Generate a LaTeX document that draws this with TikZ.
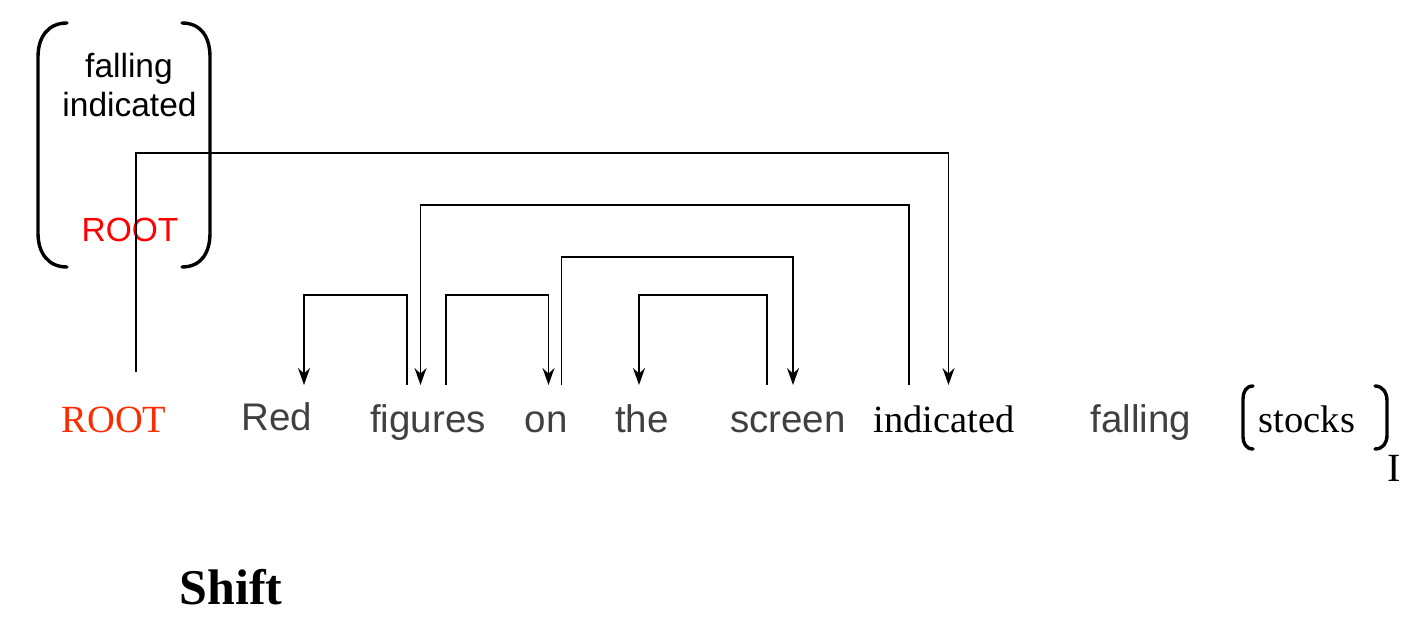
\documentclass[tikz,border=0pt]{standalone}
\usepackage{fontspec}
\setmainfont{Liberation Serif}
\newfontfamily\arialfam{Liberation Sans}
\usetikzlibrary{arrows.meta}
\definecolor{rootorange}{RGB}{250,45,0}
\definecolor{wordgray}{RGB}{64,64,64}
\definecolor{purered}{RGB}{255,0,0}
\begin{document}
\begin{tikzpicture}[x=0.5pt,y=-0.5pt,
  sansword/.style={font=\arialfam\fontsize{19.25pt}{23pt}\selectfont, text=wordgray, anchor=base, inner sep=0pt},
  serifword/.style={font=\fontsize{19.25pt}{23pt}\selectfont, text=black, anchor=base, inner sep=0pt},
  stacktext/.style={font=\arialfam\fontsize{16.75pt}{20pt}\selectfont, text=black, anchor=base, inner sep=0pt},
  brk/.style={line width=1.7pt, line cap=round},
  arcline/.style={line width=0.8pt},
  dep/.style={arcline, -{Stealth[length=8.5pt,width=6pt,inset=2.8pt]}}]
\useasboundingbox (0,0) rectangle (1427,619);

% stack
\draw[brk] (67,23) .. controls (48,23) and (38,37) .. (38,57) -- (38,233) .. controls (38,253) and (48,267) .. (67,267);
\draw[brk] (182,23) .. controls (201,23) and (210,37) .. (210,57) -- (210,233) .. controls (210,253) and (201,267) .. (182,267);
\node[stacktext] (sfalling) at (129,78) {falling};
\node[stacktext] (sindicated) at (129.5,117) {indicated};
\node[stacktext, text=purered] (sroot) at (130,241.5) {ROOT};

% words
\node[serifword, text=rootorange] (wROOT) at (114,432) {ROOT};
\node[sansword] (wRed) at (277,430) {Red};
\node[sansword] (wfigures) at (428,432) {figures};
\node[sansword] (won) at (546,432) {on};
\node[sansword] (wthe) at (642,432) {the};
\node[sansword] (wscreen) at (788,432) {screen};
\node[serifword] (windicated) at (944,432) {indicated};
\node[sansword] (wfalling) at (1141,432) {falling};
\node[serifword] (wstocks) at (1307,432) {stocks};
\node[serifword, font=\fontsize{20pt}{24pt}\selectfont] (bufsub) at (1394,481) {I};
\node[font=\bfseries\fontsize{25pt}{30pt}\selectfont, anchor=base, inner sep=0pt] (shift) at (231,604) {Shift};

% buffer brackets
\draw[brk] (1253,386) .. controls (1246,386) and (1243,392) .. (1243,399) -- (1243,437) .. controls (1243,443) and (1246,449) .. (1253,449);
\draw[brk] (1375,386) .. controls (1383,386) and (1387,393) .. (1387,401) -- (1387,435) .. controls (1387,443) and (1383,449) .. (1375,449);

% levels
\coordinate (lv1) at (0,153);
\coordinate (lv2) at (0,205);
\coordinate (lv3) at (0,257);
\coordinate (lv4) at (0,295);

% endpoints
\coordinate (rootS) at (136,372);
\coordinate (indT) at (948.5,385);
\coordinate (indS) at (909,385);
\coordinate (figT) at (420.5,385);
\coordinate (figS1) at (407,385);
\coordinate (redT) at (304,385);
\coordinate (figS2) at (446,385);
\coordinate (onT) at (548.5,385);
\coordinate (onS) at (561.5,385);
\coordinate (scrT) at (793,385);
\coordinate (scrS) at (767,385);
\coordinate (theT) at (639,385);

% arcs
\draw[dep] (rootS) |- (lv1 -| indT) -- (indT);
\draw[dep] (indS) |- (lv2 -| figT) -- (figT);
\draw[dep] (onS) |- (lv3 -| scrT) -- (scrT);
\draw[dep] (figS1) |- (lv4 -| redT) -- (redT);
\draw[dep] (figS2) |- (lv4 -| onT) -- (onT);
\draw[dep] (scrS) |- (lv4 -| theT) -- (theT);
\end{tikzpicture}
\end{document}
